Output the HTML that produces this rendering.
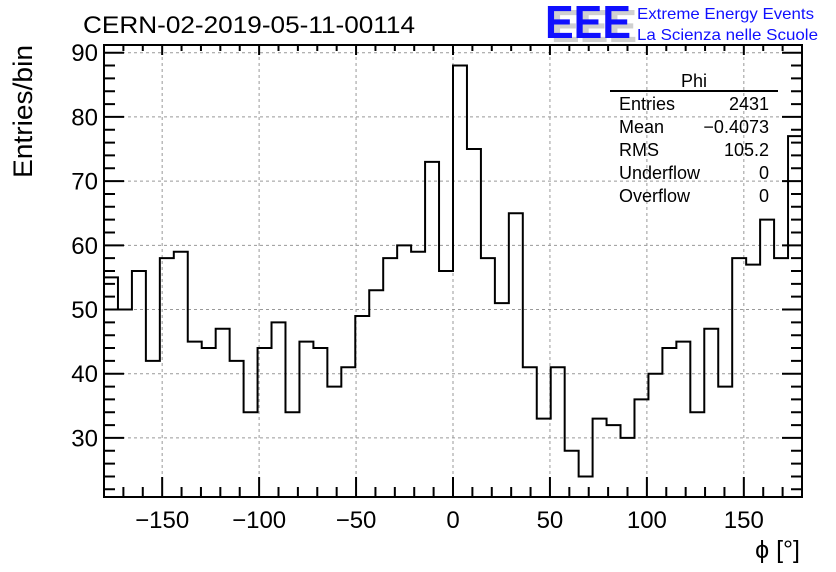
<!DOCTYPE html>
<html><head><meta charset="utf-8"><style>
body{margin:0;background:#fff}
svg{display:block;font-family:"Liberation Sans",Arial,sans-serif}
</style></head><body>
<svg id="c" width="836" height="572" viewBox="0 0 836 572">
<rect width="836" height="572" fill="#fff"/>
<text x="83" y="33" font-size="24" textLength="332" lengthAdjust="spacingAndGlyphs">CERN-02-2019-05-11-00114</text>
<text x="551" y="42" font-size="46" font-weight="bold" fill="#d0d0d0" textLength="86" lengthAdjust="spacingAndGlyphs">EEE</text>
<text x="545" y="38" font-size="46" font-weight="bold" fill="#1010ff" textLength="86" lengthAdjust="spacingAndGlyphs">EEE</text>
<text x="637" y="19" font-size="16" fill="#1010ff" textLength="177" lengthAdjust="spacingAndGlyphs">Extreme Energy Events</text>
<text x="637" y="40" font-size="16" fill="#1010ff" textLength="181" lengthAdjust="spacingAndGlyphs">La Scienza nelle Scuole</text>
<text transform="translate(32,178) rotate(-90)" font-size="27" textLength="133" lengthAdjust="spacingAndGlyphs">Entries/bin</text>
<text x="800" y="558" font-size="25" text-anchor="end">ϕ [°]</text>
<g id="grid"></g><g id="ticks"></g><g id="hist"></g>
<rect x="104" y="45" width="698" height="452" fill="none" stroke="#000" stroke-width="2"/>
<g font-size="18">
<text x="694" y="87" text-anchor="middle">Phi</text>
<line x1="610" y1="91" x2="778" y2="91" stroke="#000" stroke-width="2"/>
<text x="619" y="110">Entries</text><text x="769" y="110" text-anchor="end">2431</text>
<text x="619" y="133">Mean</text><text x="769" y="133" text-anchor="end">−0.4073</text>
<text x="619" y="156">RMS</text><text x="769" y="156" text-anchor="end">105.2</text>
<text x="619" y="179">Underflow</text><text x="769" y="179" text-anchor="end">0</text>
<text x="619" y="202">Overflow</text><text x="769" y="202" text-anchor="end">0</text>
</g>
</svg>
<script>
const counts=[55,50,56,42,58,59,45,44,47,42,34,44,48,34,45,44,38,41,49,53,58,60,59,73,56,88,75,58,51,65,41,33,41,28,24,33,32,30,36,40,44,45,34,47,38,58,57,64,58,77];
const xTicks=[-150,-100,-50,0,50,100,150];
const yTicks=[30,40,50,60,70,80,90];
const xMin=-180,xMax=180;
const NS="http://www.w3.org/2000/svg";
const L=104,R=802,T=45,B=497;
const mx=Math.max(...counts),mn=Math.min(...counts);
const yMin=mn-(mx-mn)*0.05,yMax=mx+(mx-mn)*0.05;
const sx=v=>L+(v-xMin)/(xMax-xMin)*(R-L);
const sy=v=>B-(v-yMin)/(yMax-yMin)*(B-T);
function mk(tag,attrs,parent){const e=document.createElementNS(NS,tag);for(const k in attrs)e.setAttribute(k,attrs[k]);document.getElementById(parent).appendChild(e);return e;}
xTicks.forEach(v=>{
 const g=mk('line',{x1:sx(v),x2:sx(v),y1:T,y2:B,stroke:'#999','stroke-dasharray':'3,3','stroke-width':1},'grid');
 
 
 const t=mk('text',{x:sx(v),y:528,'font-size':24,'text-anchor':'middle'},'ticks');
 t.textContent=v<0?'−'+(-v):String(v);
 
 
});
yTicks.forEach(v=>{
 const g=mk('line',{x1:L,x2:R,y1:sy(v),y2:sy(v),stroke:'#999','stroke-dasharray':'3,3','stroke-width':1},'grid');
 
 
 const t=mk('text',{x:98,y:sy(v)+8.5,'font-size':24,'text-anchor':'end'},'ticks');
 t.textContent=String(v);
 
 
});
let d='';
for(let v=-180;v<=180;v+=10){const x=sx(v);const maj=v%50===0;const l=maj?20:10;d+=`M${x} ${B}v${-l}M${x} ${T}v${maj?10:6}`;}
for(let v=Math.ceil(yMin/2)*2;v<=yMax;v+=2){const y=sy(v);const maj=v%10===0;d+=`M${L} ${y}h${maj?20:11}M${R} ${y}h${maj?-20:-11}`;}
const tk=mk('path',{d:d,stroke:'#000','stroke-width':2,fill:'none'},'ticks');


const w=(xMax-xMin)/counts.length;
let p=`M${sx(xMin)} ${B}`;
counts.forEach((c,i)=>{p+=`V${sy(c)}H${sx(xMin+(i+1)*w)}`;});
p+=`V${B}`;
const h=mk('path',{d:p,stroke:'#000','stroke-width':2,fill:'none'},'hist');


</script>
</body></html>
